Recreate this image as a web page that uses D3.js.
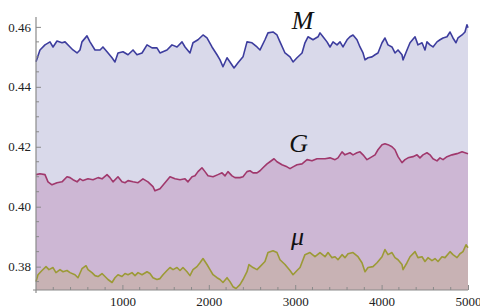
<!DOCTYPE html>
<html><head><meta charset="utf-8">
<script src="https://cdn.jsdelivr.net/npm/d3@7"></script>
<style>html,body{margin:0;padding:0;background:#fff;}svg{display:block;}</style>
</head><body>
<svg id="c" width="480" height="308"></svg>
<script>
const seriesNames = ["M", "G", "\u03bc"];
const xTicks = [1000, 2000, 3000, 4000, 5000];
const yTicks = [0.38, 0.40, 0.42, 0.44, 0.46];

const mData = [[0,.4484],[46,.4523],[104,.4540],[162,.4550],[197,.4533],[243,.4553],[301,.4547],[336,.4550],[394,.4533],[428,.4523],[475,.4513],[509,.4523],[532,.4550],[590,.4570],[625,.4550],[683,.4523],[741,.4523],[775,.4533],[822,.4517],[880,.4497],[914,.4483],[949,.4513],[1007,.4517],[1065,.4507],[1123,.4523],[1169,.4507],[1227,.4513],[1285,.4540],[1343,.4530],[1400,.4530],[1435,.4513],[1516,.4523],[1574,.4540],[1632,.4533],[1690,.4550],[1725,.4533],[1782,.4513],[1817,.4547],[1875,.4557],[1933,.4573],[1979,.4563],[2037,.4533],[2095,.4507],[2130,.4490],[2164,.4467],[2211,.4497],[2245,.4483],[2292,.4463],[2338,.4480],[2396,.4500],[2442,.4550],[2500,.4547],[2558,.4533],[2593,.4523],[2650,.4557],[2685,.4580],[2743,.4583],[2789,.4573],[2824,.4550],[2882,.4513],[2940,.4500],[2975,.4483],[3021,.4497],[3079,.4513],[3113,.4547],[3148,.4567],[3206,.4557],[3264,.4567],[3287,.4580],[3322,.4567],[3368,.4550],[3403,.4533],[3438,.4550],[3484,.4540],[3519,.4550],[3553,.4533],[3600,.4557],[3634,.4567],[3669,.4573],[3715,.4557],[3750,.4533],[3785,.4513],[3808,.4490],[3843,.4497],[3889,.4500],[3924,.4507],[3958,.4513],[4005,.4547],[4039,.4563],[4074,.4540],[4120,.4533],[4155,.4513],[4190,.4523],[4236,.4507],[4248,.4490],[4294,.4523],[4329,.4547],[4387,.4567],[4421,.4540],[4468,.4547],[4502,.4523],[4525,.4550],[4560,.4540],[4595,.4533],[4641,.4550],[4676,.4557],[4711,.4563],[4757,.4567],[4792,.4583],[4826,.4563],[4861,.4547],[4884,.4563],[4931,.4573],[4965,.4583],[4988,.4607],[5000,.4597]];

const gData = [[0,.4107],[46,.4110],[104,.4107],[139,.4083],[185,.4073],[243,.4080],[301,.4083],[359,.4100],[394,.4097],[428,.4090],[475,.4083],[509,.4093],[544,.4087],[602,.4093],[660,.4090],[718,.4097],[764,.4093],[822,.4107],[856,.4097],[891,.4083],[949,.4100],[995,.4083],[1030,.4080],[1065,.4087],[1123,.4083],[1181,.4080],[1238,.4093],[1296,.4083],[1354,.4067],[1377,.4053],[1435,.4060],[1493,.4080],[1551,.4100],[1609,.4093],[1667,.4090],[1725,.4093],[1759,.4083],[1806,.4100],[1840,.4103],[1875,.4117],[1921,.4130],[1956,.4117],[1991,.4103],[2049,.4100],[2106,.4107],[2153,.4113],[2188,.4103],[2222,.4117],[2269,.4103],[2303,.4097],[2361,.4097],[2396,.4100],[2442,.4117],[2477,.4120],[2512,.4113],[2558,.4113],[2593,.4120],[2627,.4130],[2674,.4143],[2708,.4150],[2755,.4160],[2789,.4150],[2847,.4140],[2905,.4133],[2940,.4127],[2975,.4133],[3021,.4140],[3079,.4143],[3137,.4157],[3194,.4153],[3252,.4160],[3287,.4160],[3345,.4160],[3403,.4163],[3461,.4157],[3495,.4163],[3542,.4183],[3576,.4173],[3634,.4180],[3669,.4173],[3715,.4180],[3750,.4183],[3785,.4173],[3831,.4157],[3866,.4163],[3924,.4173],[3958,.4190],[4005,.4207],[4039,.4210],[4074,.4207],[4120,.4200],[4155,.4190],[4190,.4167],[4236,.4147],[4271,.4157],[4306,.4163],[4363,.4167],[4410,.4173],[4444,.4163],[4479,.4173],[4525,.4180],[4560,.4173],[4595,.4160],[4641,.4153],[4676,.4163],[4711,.4157],[4757,.4167],[4815,.4173],[4873,.4177],[4931,.4183],[4965,.4180],[5000,.4177]];

const muData = [[0,.3750],[23,.3773],[69,.3787],[116,.3800],[150,.3790],[197,.3797],[231,.3780],[278,.3790],[313,.3783],[359,.3787],[394,.3780],[451,.3773],[486,.3763],[532,.3793],[579,.3803],[602,.3790],[648,.3780],[683,.3770],[718,.3767],[764,.3777],[799,.3767],[833,.3757],[880,.3747],[914,.3763],[949,.3773],[995,.3767],[1030,.3777],[1065,.3773],[1111,.3780],[1146,.3770],[1181,.3780],[1227,.3773],[1285,.3783],[1319,.3777],[1354,.3763],[1400,.3757],[1435,.3760],[1470,.3773],[1516,.3787],[1551,.3797],[1586,.3790],[1632,.3797],[1667,.3787],[1701,.3797],[1748,.3783],[1782,.3770],[1817,.3790],[1863,.3800],[1898,.3813],[1933,.3827],[1979,.3807],[2014,.3790],[2049,.3773],[2095,.3763],[2130,.3757],[2164,.3747],[2211,.3763],[2245,.3750],[2280,.3733],[2315,.3727],[2361,.3740],[2396,.3757],[2442,.3783],[2465,.3807],[2512,.3797],[2558,.3790],[2593,.3800],[2650,.3817],[2685,.3847],[2743,.3853],[2789,.3847],[2824,.3823],[2882,.3807],[2940,.3787],[2975,.3773],[3021,.3787],[3056,.3797],[3113,.3840],[3171,.3847],[3229,.3833],[3287,.3847],[3345,.3833],[3380,.3847],[3426,.3830],[3461,.3833],[3495,.3823],[3542,.3840],[3576,.3830],[3611,.3843],[3669,.3847],[3727,.3833],[3773,.3813],[3808,.3783],[3843,.3797],[3900,.3800],[3947,.3813],[4005,.3833],[4039,.3857],[4074,.3840],[4120,.3847],[4155,.3830],[4190,.3823],[4236,.3807],[4248,.3790],[4294,.3813],[4329,.3833],[4387,.3850],[4421,.3830],[4468,.3833],[4502,.3817],[4537,.3830],[4583,.3820],[4618,.3827],[4653,.3817],[4699,.3833],[4734,.3830],[4792,.3850],[4826,.3840],[4873,.3830],[4907,.3843],[4942,.3850],[4977,.3873],[5000,.3863]];

const svg = d3.select("#c");
const x = d3.scaleLinear().domain([0, 5000]).range([36, 468]);
const y = d3.scaleLinear().domain([0.3722, 0.4633]).range([290, 17]);

const series = [
  {name: seriesNames[0], data: mData,  line: "#3d3d9e", fill: "#d9d9ea", lx: 2960, ly: 0.4594},
  {name: seriesNames[1], data: gData,  line: "#a0386c", fill: "#cdb7d4", lx: 2930, ly: 0.4182},
  {name: seriesNames[2], data: muData, line: "#9c9a36", fill: "#c8b2b4", lx: 2950, ly: 0.3872}
];

const area = d3.area().x(d => x(d[0])).y0(y(0.3722)).y1(d => y(d[1]));
const line = d3.line().x(d => x(d[0])).y(d => y(d[1]));

series.forEach(s => {
  svg.append("path").attr("d", area(s.data)).attr("fill", s.fill);
});
series.forEach(s => {
  svg.append("path").attr("d", line(s.data)).attr("fill", "none")
    .attr("stroke", s.line).attr("stroke-width", 1.6).attr("stroke-linejoin", "round");
});

// axes
const axisColor = "#8a8a8a";
const yMinor = d3.range(0.375, 0.4601, 0.005).filter(v => Math.round(v*1000) % 20 !== 0);
const xMinor = d3.range(200, 5000, 200).filter(v => v % 1000 !== 0);

const gy = svg.append("g").attr("transform", `translate(${x(0)},0)`)
  .call(d3.axisLeft(y).tickValues(yTicks).tickFormat(d3.format(".2f")).tickSize(-5).tickPadding(5));
gy.select(".domain").remove();
gy.selectAll(".tick line").attr("stroke", axisColor);
gy.selectAll("text").attr("font-family", "Liberation Serif, serif").attr("font-size", 13).attr("fill", "#222");

const gx = svg.append("g").attr("transform", `translate(0,${y(0.3722)})`)
  .call(d3.axisBottom(x).tickValues(xTicks).tickFormat(d3.format("d")).tickSize(-5).tickPadding(7));
gx.select(".domain").remove();
gx.selectAll(".tick line").attr("stroke", axisColor);
gx.selectAll("text").attr("font-family", "Liberation Serif, serif").attr("font-size", 13).attr("fill", "#222");

svg.append("g").selectAll("line").data(yMinor).join("line")
  .attr("x1", x(0)).attr("x2", x(0) + 3).attr("y1", d => y(d)).attr("y2", d => y(d))
  .attr("stroke", axisColor);
svg.append("g").selectAll("line").data(xMinor).join("line")
  .attr("y1", y(0.3722)).attr("y2", y(0.3722) - 3).attr("x1", d => x(d)).attr("x2", d => x(d))
  .attr("stroke", axisColor);

svg.append("line").attr("x1", x(0)).attr("x2", x(0)).attr("y1", y(0.4633)).attr("y2", y(0.3722) + 3)
  .attr("stroke", axisColor).attr("stroke-width", 1.2);
svg.append("line").attr("x1", x(0) - 3).attr("x2", x(5000)).attr("y1", y(0.3722)).attr("y2", y(0.3722))
  .attr("stroke", axisColor).attr("stroke-width", 1.2);

// series labels
series.forEach(s => {
  svg.append("text").attr("x", x(s.lx)).attr("y", y(s.ly))
    .attr("font-family", "Liberation Serif, serif").attr("font-style", "italic")
    .attr("font-size", 26).attr("fill", "#111").text(s.name);
});
</script>
</body></html>
